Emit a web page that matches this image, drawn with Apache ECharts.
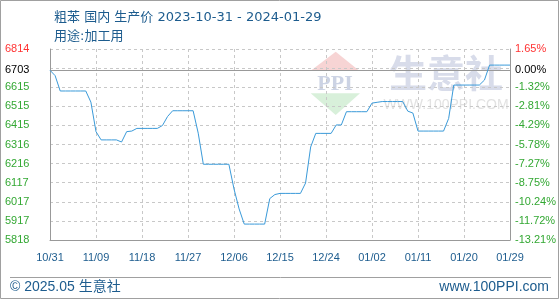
<!DOCTYPE html>
<html>
<head>
<meta charset="utf-8">
<script src="https://cdn.jsdelivr.net/npm/echarts@6/dist/echarts.min.js"></script>
<style>
html,body{margin:0;padding:0;background:#fff;}
#c{width:560px;height:300px;}
</style>
</head>
<body>
<div id="c"></div>
<script>
const titleText = '粗苯 国内 生产价 2023-10-31 - 2024-01-29';
const subTitleText = '用途:加工用';
const xLabels = ['10/31','11/09','11/18','11/27','12/06','12/15','12/24','01/02','01/11','01/20','01/29'];
const prices = [
  6703, 6675, 6595, 6595, 6595, 6595, 6595, 6595, 6537, 6383,
  6340, 6340, 6340, 6340, 6329, 6383, 6386, 6400, 6400, 6400,
  6400, 6400, 6415, 6462, 6492, 6492, 6492, 6492, 6492, 6375,
  6213, 6213, 6213, 6213, 6213, 6213, 6084, 5980, 5901, 5901,
  5901, 5901, 5901, 6034, 6055, 6061, 6061, 6061, 6061, 6061,
  6115, 6303, 6374, 6374, 6374, 6374, 6418, 6418, 6487, 6487,
  6487, 6487, 6487, 6532, 6536, 6540, 6540, 6540, 6540, 6540,
  6490, 6480, 6386, 6386, 6386, 6386, 6386, 6386, 6452, 6626,
  6626, 6626, 6626, 6626, 6626, 6652, 6730, 6730, 6730, 6730,
  6730
];
const leftTicks = ['5818','5917','6017','6117','6216','6316','6415','6515','6615','','6814'];
const rightTicks = ['-13.21%','-11.72%','-10.24%','-8.75%','-7.27%','-5.78%','-4.29%','-2.81%','-1.32%','','1.65%'];
const yMin = 5818, yMax = 6814, yStep = 99.6;
const baseValue = 6703, baseLabel = '6703', basePct = '0.00%';
const footerLeft = '© 2025.05 生意社';
const footerRight = 'www.100PPI.com';

const FONT = '"Liberation Sans", Arial, sans-serif';
const TFONT = '"DejaVu Sans", "Noto Sans CJK SC", sans-serif';
const BLUE_TXT = '#1d5c8e';
const GREEN = '#33a833';
const RED = '#ff3333';

function tickIdx(v){ return Math.round((v - yMin) / yStep); }
function rich(){
  return { g:{color:GREEN,fontSize:11,fontFamily:FONT}, r:{color:RED,fontSize:11,fontFamily:FONT} };
}

const chart = echarts.init(document.getElementById('c'), null, {renderer:'canvas'});
chart.setOption({
  animation:false,
  backgroundColor:'#fff',
  title:{
    text:titleText, subtext:subTitleText, left:49, top:6, itemGap:6,
    textStyle:{color:BLUE_TXT,fontSize:13,fontWeight:'normal',fontFamily:TFONT},
    subtextStyle:{color:BLUE_TXT,fontSize:13,fontFamily:TFONT}
  },
  grid:{left:50,right:50,top:49,bottom:60,containLabel:false},
  xAxis:{
    type:'value', min:0, max:prices.length-1, interval:9,
    axisLine:{show:true,lineStyle:{color:'#999',width:1}},
    axisTick:{show:false},
    axisLabel:{color:BLUE_TXT,fontSize:11,fontFamily:FONT,margin:12,
      formatter:function(v){ const i=Math.round(v/9); return xLabels[i]||''; }},
    splitLine:{show:true,lineStyle:{color:'#c8c8c8',type:[3,3],width:1}}
  },
  yAxis:[{
    type:'value', position:'left', min:yMin, max:yMax, interval:yStep,
    axisLine:{show:true,lineStyle:{color:'#999',width:1}},
    axisTick:{show:false},
    axisLabel:{align:'left',margin:45,rich:rich(),
      formatter:function(v){ const i=tickIdx(v); const t=leftTicks[i]; if(!t) return ''; return (i===leftTicks.length-1?'{r|':'{g|')+t+'}'; }},
    splitLine:{show:true,lineStyle:{color:'#c8c8c8',type:[3,3],width:1}}
  },{
    type:'value', position:'right', min:yMin, max:yMax, interval:yStep,
    axisLine:{show:true,lineStyle:{color:'#999',width:1}},
    axisTick:{show:false},
    axisLabel:{align:'left',margin:5,rich:rich(),
      formatter:function(v){ const i=tickIdx(v); const t=rightTicks[i]; if(!t) return ''; return (i===rightTicks.length-1?'{r|':'{g|')+t+'}'; }},
    splitLine:{show:false}
  }],
  graphic:[
    {type:'rect',shape:{x:0.5,y:0.5,width:558,height:298},style:{fill:'none',stroke:'#a0a0a0',lineWidth:1},silent:true,z:0},
    {type:'line',shape:{x1:10,y1:277.5,x2:551,y2:277.5},style:{stroke:'#a0a0a0',lineWidth:1},silent:true},
    {type:'text',left:10,top:280,style:{text:footerLeft,fill:BLUE_TXT,font:'14px "Liberation Sans", "Noto Sans CJK SC", sans-serif'}},
    {type:'text',right:11,top:280,style:{text:footerRight,fill:BLUE_TXT,font:'14px "Liberation Sans", Arial, sans-serif'}},
    {type:'polygon',shape:{points:[[335.7,51.7],[311.7,70],[358.3,70]]},style:{fill:'#f7d4d4'},silent:true,z:0},
    {type:'polygon',shape:{points:[[310.7,93.3],[360,93.3],[335.7,115]]},style:{fill:'#d8f0da'},silent:true,z:0},
    {type:'text',x:335,y:84,style:{text:'PPI',fill:'#ccd3e4',font:'bold 22px "Liberation Serif", serif',align:'center',verticalAlign:'middle'},silent:true,z:0},
    {type:'text',x:446,y:73,style:{text:'生意社',fill:'#d8dcea',font:'bold 38px "Noto Sans CJK SC", sans-serif',align:'center',verticalAlign:'middle'},silent:true,z:0},
    {type:'text',x:446,y:105,style:{text:'WWW.100PPI.COM',fill:'#e2e2e2',font:'14px "Liberation Sans", Arial, sans-serif',align:'center',verticalAlign:'middle'},silent:true,z:0}
  ],
  series:[{
    type:'line', xAxisIndex:0, yAxisIndex:0,
    data:prices.map(function(v,i){return [i,v];}),
    showSymbol:false, symbol:'none',
    lineStyle:{color:'#3a9ad9',width:1},
    z:5,
    markLine:{
      silent:true, symbol:['none','none'], animation:false,
      lineStyle:{color:'#999',type:'solid',width:1},
      data:[
        {yAxis:baseValue,label:{show:true,position:'start',distance:45,align:'left',formatter:baseLabel,color:'#000',fontSize:11,fontFamily:FONT}},
        {yAxis:baseValue,label:{show:true,position:'end',distance:5,align:'left',formatter:basePct,color:'#000',fontSize:11,fontFamily:FONT}}
      ]
    }
  }]
});
</script>
</body>
</html>
